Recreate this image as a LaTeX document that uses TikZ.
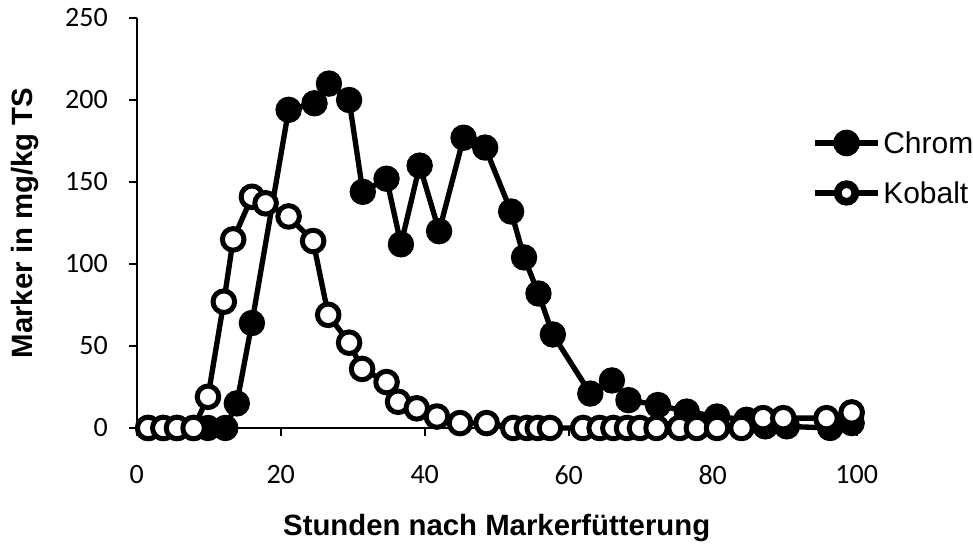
\documentclass[tikz,border=0pt]{standalone}
\usepackage{fontspec}
\setmainfont{Liberation Sans}
\newfontfamily\tickfont{Carlito}
\usetikzlibrary{positioning}
\tikzset{
    axisline/.style={black,line width=1.8pt},
    ticklabel/.style={font=\tickfont\fontsize{21}{25}\selectfont,inner sep=0pt},
    axistitle/.style={font=\bfseries\fontsize{22}{26}\selectfont,inner sep=0pt},
    legendtext/.style={font=\fontsize{22.5}{27}\selectfont,inner sep=0pt},
    dataline/.style={black,line width=4pt,line join=round},
    chromplot/.style={dataline,mark=*,mark size=9.5pt,mark options={fill=black,draw=black,line width=0.8pt}},
    kobaltplot/.style={dataline,mark=*,mark size=8.1pt,mark options={fill=white,draw=black,line width=3.75pt}},
    legendline/.style={black,line width=4.5pt},
    chromkey/.style={circle,fill=black,minimum size=20pt,inner sep=0pt},
    kobaltkey/.style={circle,draw=black,fill=white,line width=5.8pt,minimum size=13.2pt,inner sep=0pt}
}
\begin{document}
\begin{tikzpicture}[x=0.75pt,y=0.75pt]
\useasboundingbox (0,0) rectangle (973,552);
\begin{scope}[shift={(136.7,124)},x=5.4pt,y=1.23pt]
\draw[axisline] (0,250) -- (0,0) -- (100,0);
\foreach \v in {0,50,...,250}{
  \draw[axisline] (0,\v) -- ++(-6pt,0pt);
  \node[ticklabel,anchor=east] (ylab\v) at ([xshift=-21.5pt]0,\v) {\v};
}
\foreach \v in {0,20,...,100}{
  \draw[axisline] (\v,0) -- ++(0pt,-6pt);
  \node[ticklabel] (xlab\v) at ([yshift=-35pt]\v,0) {\v};
}
\draw[chromplot] plot coordinates {(1.6,0) (3.7,0) (5.6,0) (7.9,0) (9.9,0) (12.3,0) (13.9,15) (16.0,64) (21.1,194) (24.7,198) (26.7,210) (29.5,200) (31.4,144) (34.7,152) (36.7,112) (39.3,160) (42.0,120) (45.4,177) (48.4,171) (52.0,132) (53.8,104) (55.8,82) (57.8,57) (63.0,21) (66.0,29) (68.3,17) (72.4,14) (76.4,10) (80.6,7) (84.7,5) (87.3,1) (90.3,1) (96.3,0) (99.3,3)};
\draw[kobaltplot] plot coordinates {(1.6,0) (3.7,0) (5.6,0) (7.9,0) (9.9,19) (12.1,77) (13.4,115) (16.0,141) (17.9,137) (21.1,129) (24.5,114) (26.6,69) (29.5,52) (31.3,36) (34.7,28) (36.3,16) (38.9,12) (41.7,7) (44.9,3) (48.6,3) (52.3,0) (54.2,0) (55.7,0) (57.4,0) (62.0,0) (64.3,0) (66.2,0) (68.1,0) (69.9,0) (72.2,0) (75.4,0) (77.8,0) (80.6,0) (84.0,0) (87.0,6) (89.8,6) (95.8,6) (99.3,9.5)};
\end{scope}
\node[axistitle,rotate=90] (ytitle) at (25,329) {Marker in mg/kg TS};
\node[axistitle] (xtitle) at (496.7,24) {Stunden nach Markerfütterung};
\coordinate (chromleft) at (815,409);
\coordinate (chromright) at (878,409);
\draw[legendline] (chromleft) -- (chromright);
\node[chromkey] (chromsym) at (846.5,409) {};
\node[legendtext,right=3.75pt of chromright] (chromtext) {Chrom};
\coordinate (kobaltleft) at (815,359);
\coordinate (kobaltright) at (878,359);
\draw[legendline] (kobaltleft) -- (kobaltright);
\node[kobaltkey] (kobaltsym) at (846.5,359) {};
\node[legendtext,right=3.75pt of kobaltright] (kobalttext) {Kobalt};
\end{tikzpicture}
\end{document}
